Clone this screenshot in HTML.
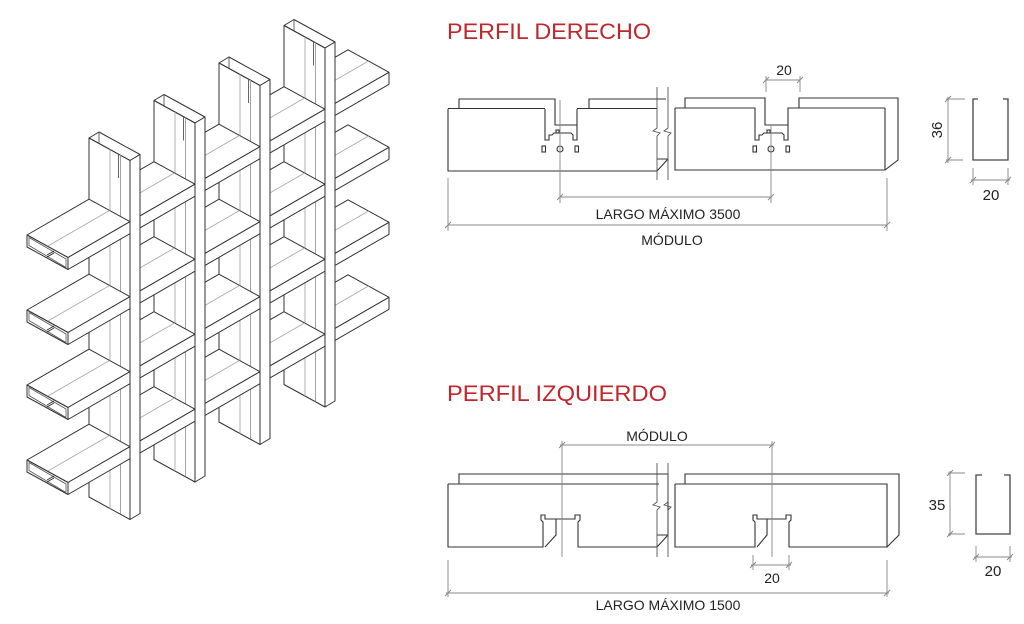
<!DOCTYPE html>
<html><head><meta charset="utf-8"><style>
html,body{margin:0;padding:0;background:#fff;}
svg{display:block;}
text{font-family:"Liberation Sans",sans-serif;}
</style></head><body>
<svg id="s" width="1024" height="624" viewBox="0 0 1024 624" xmlns="http://www.w3.org/2000/svg">
<rect width="1024" height="624" fill="#fff"/>
<g id="iso" fill="#fff" stroke="#333" stroke-width="1" stroke-linejoin="round"></g>

<!-- titles -->
<text x="447" y="39" font-size="22" fill="#c0272d" textLength="204" lengthAdjust="spacingAndGlyphs">PERFIL DERECHO</text>
<text x="447" y="401" font-size="22" fill="#c0272d" textLength="220" lengthAdjust="spacingAndGlyphs">PERFIL IZQUIERDO</text>

<!-- top profile -->
<g fill="none" stroke="#333" stroke-width="1.1">
<path d="M448,109 V171 H657"/>
<path d="M448,108.5 H545"/>
<path d="M459,108 V99 H555 V125 H577"/>
<path d="M545,109 V140 H549 V135 H552 L554,133 H571 L573,135 V140 H577 V109"/>
<rect x="556" y="130" width="3" height="3"/>
<path d="M577,108.5 H657"/>
<path d="M589,108 V99 H666"/>
<path d="M657,171 L668,159 M657,159 H668"/>
<path d="M675,108 V170 H885 V108"/>
<path d="M675,108 H755 V140 H759 V135 H762 L764,133 H782 L784,135 V140 H788 V108 H885"/>
<rect x="767" y="130" width="3" height="3"/>
<path d="M685,108 V98 H765 V125 H788"/>
<path d="M799,108 V98 H898 V160 L885,170"/>
<rect x="542" y="146" width="3.5" height="6"/>
<circle cx="560" cy="149" r="3"/>
<rect x="575" y="146" width="3.5" height="6"/>
<rect x="753" y="146" width="3.5" height="6"/>
<circle cx="771" cy="149" r="3"/>
<rect x="786" y="146" width="3.5" height="6"/>
</g>
<g fill="none" stroke="#555" stroke-width="0.9">
<path d="M657,87 V128 L653,131 L660,133 L657,136 V180"/>
<path d="M668,87 V128 L664,131 L671,133 L668,136 V180"/>
</g>
<g fill="none" stroke="#888" stroke-width="0.9">
<path d="M560,100 V203 M771,126 V203 M560,197 H771"/>
<path d="M766,76 V92 M800,76 V92 M766,80 H800"/>
<path d="M448,178 V231 M887,178 V231 M448,225 H887"/>
<path d="M557,200 L563,194 M768,200 L774,194 M763,83 L769,77 M797,83 L803,77 M445,228 L451,222 M884,228 L890,222"/>
</g>
<g font-size="14" fill="#222" text-anchor="middle">
<text x="784" y="75">20</text>
<text x="668" y="219">LARGO MÁXIMO 3500</text>
<text x="672" y="245">MÓDULO</text>
</g>

<!-- top section -->
<g fill="none" stroke="#444" stroke-width="1.3">
<path d="M978,99 H973 V160 H1008 V99 H1003"/>
</g>
<g fill="none" stroke="#888" stroke-width="0.9">
<path d="M946,99 H965 M946,160 H963 M948,97 V163 M945,102 L951,96 M945,163 L951,157"/>
<path d="M973,168 V185 M1008,168 V185 M971,180 H1010 M970,183 L976,177 M1005,183 L1011,177"/>
</g>
<text x="0" y="0" font-size="15" fill="#222" text-anchor="middle" transform="translate(942,130) rotate(-90)">36</text>
<text x="991" y="200" font-size="15" fill="#222" text-anchor="middle">20</text>

<!-- bottom profile -->
<g fill="none" stroke="#333" stroke-width="1.1">
<path d="M448,484 V547 H543 V522 L541,520 V515 H545 V519 H575 V515 H580 V520 L578,522 V547 H657"/>
<path d="M545,547 L556,535 V519"/>
<path d="M448,484 H659"/>
<path d="M459,484 V474 H668 V535"/>
<path d="M657,547 L668,535 M657,535 H668"/>
<path d="M675,484 V547 H755 V522 L753,520 V515 H757 V519 H786 V515 H791 V520 L789,522 V547 H887 V484 H675"/>
<path d="M757,547 L767,535 V519"/>
<path d="M685,484 V474 H899 V535 L887,547"/>
</g>
<g fill="none" stroke="#555" stroke-width="0.9">
<path d="M657,463 V502 L653,505 L660,507 L657,510 V557"/>
<path d="M668,463 V502 L664,505 L671,507 L668,510 V557"/>
</g>
<g fill="none" stroke="#888" stroke-width="0.9">
<path d="M562,441 V557 M772,441 V557 M560,445 H774"/>
<path d="M753,555 V570 M789,555 V570 M751,565 H791"/>
<path d="M448,560 V597 M887,560 V597 M446,593 H889"/>
<path d="M559,448 L565,442 M769,448 L775,442 M750,568 L756,562 M786,568 L792,562 M445,596 L451,590 M884,596 L890,590"/>
</g>
<g font-size="14" fill="#222" text-anchor="middle">
<text x="657" y="441">MÓDULO</text>
<text x="772" y="583">20</text>
<text x="668" y="610">LARGO MÁXIMO 1500</text>
</g>

<!-- bottom section -->
<g fill="none" stroke="#444" stroke-width="1.3">
<path d="M982,475 H976 V534 H1010 V475 H1004"/>
</g>
<g fill="none" stroke="#888" stroke-width="0.9">
<path d="M948,473 H965 M948,534 H965 M950,471 V536 M947,476 L953,470 M947,537 L953,531"/>
<path d="M976,546 V562 M1010,546 V562 M974,557 H1012 M973,560 L979,554 M1007,560 L1013,554"/>
</g>
<text x="937" y="510" font-size="15" fill="#222" text-anchor="middle">35</text>
<text x="993" y="576" font-size="15" fill="#222" text-anchor="middle">20</text>
</svg>
<script>
(function(){
var g=document.getElementById('iso');var NS='http://www.w3.org/2000/svg';
var s=0.577,WX=41,WY=22.5,H=12;
function poly(pts,fill,stroke,sw){var p=document.createElementNS(NS,'polygon');p.setAttribute('points',pts.map(function(q){return q[0].toFixed(1)+','+q[1].toFixed(1)}).join(' '));if(fill)p.setAttribute('fill',fill);if(stroke)p.setAttribute('stroke',stroke);if(sw)p.setAttribute('stroke-width',sw);g.appendChild(p);}
function line(x1,y1,x2,y2,c,w){var l=document.createElementNS(NS,'line');l.setAttribute('x1',x1);l.setAttribute('y1',y1);l.setAttribute('x2',x2);l.setAttribute('y2',y2);l.setAttribute('stroke',c||'#333');l.setAttribute('stroke-width',w||1);g.appendChild(l);}
function yb(r,x){return 235+75*r-s*(x-27);}
function seg(r,a,b,leftEnd){
 var ya=yb(r,a),yb2=yb(r,b);
 poly([[a,ya],[b,yb2],[b+WX,yb2+WY],[a+WX,ya+WY]]);
 poly([[a+WX,ya+WY],[b+WX,yb2+WY],[b+WX,yb2+WY+H],[a+WX,ya+WY+H]]);
 line(a+20.5,ya+11.25,b+20.5,yb2+11.25,'#aaa',0.9);
 if(leftEnd){
  poly([[a,ya],[a+WX,ya+WY],[a+WX,ya+WY+H],[a,ya+H]]);
  poly([[a+2,ya+2.5],[a+WX-2,ya+WY+1.5],[a+WX-2,ya+WY+H-2],[a+2,ya+H-1.5]],null,'#555',0.8);
  line(a+20,ya+20,a+27,ya+16,'#333',1);line(a+20,ya+22,a+27,ya+18,'#333',1);
 }
}
function post(p){
 var x0=89+65*p,y0=138-37.5*p,y1=497-37.5*p;
 poly([[x0,y0],[x0+10,y0-6],[x0+51,y0+16.5],[x0+41,y0+22.5]]);
 poly([[x0,y0],[x0+WX,y0+WY],[x0+WX,y1+WY],[x0,y1]]);
 poly([[x0+WX,y0+WY],[x0+51,y0+16.5],[x0+51,y1+16.5],[x0+WX,y1+WY]]);
 line(x0+21,y0+11.5,x0+21,y1+11.5,'#aaa',0.9);
 line(x0+31.5,y0+17,x0+31.5,y1+17,'#999',0.9);
 line(x0+29.5,y0+16,x0+29.5,y0+40,'#555',0.9);
 line(x0+10,y0-6,x0+10,y0+5,'#555',0.9);
}
var X=[89,154,219,284],r;
for(r=0;r<4;r++)seg(r,284,348,false);
post(3);
for(r=0;r<4;r++)seg(r,219,284,false);
post(2);
for(r=0;r<4;r++)seg(r,154,219,false);
post(1);
for(r=0;r<4;r++)seg(r,89,154,false);
post(0);
for(r=0;r<4;r++)seg(r,27,89,true);
})();
</script>
</body></html>
